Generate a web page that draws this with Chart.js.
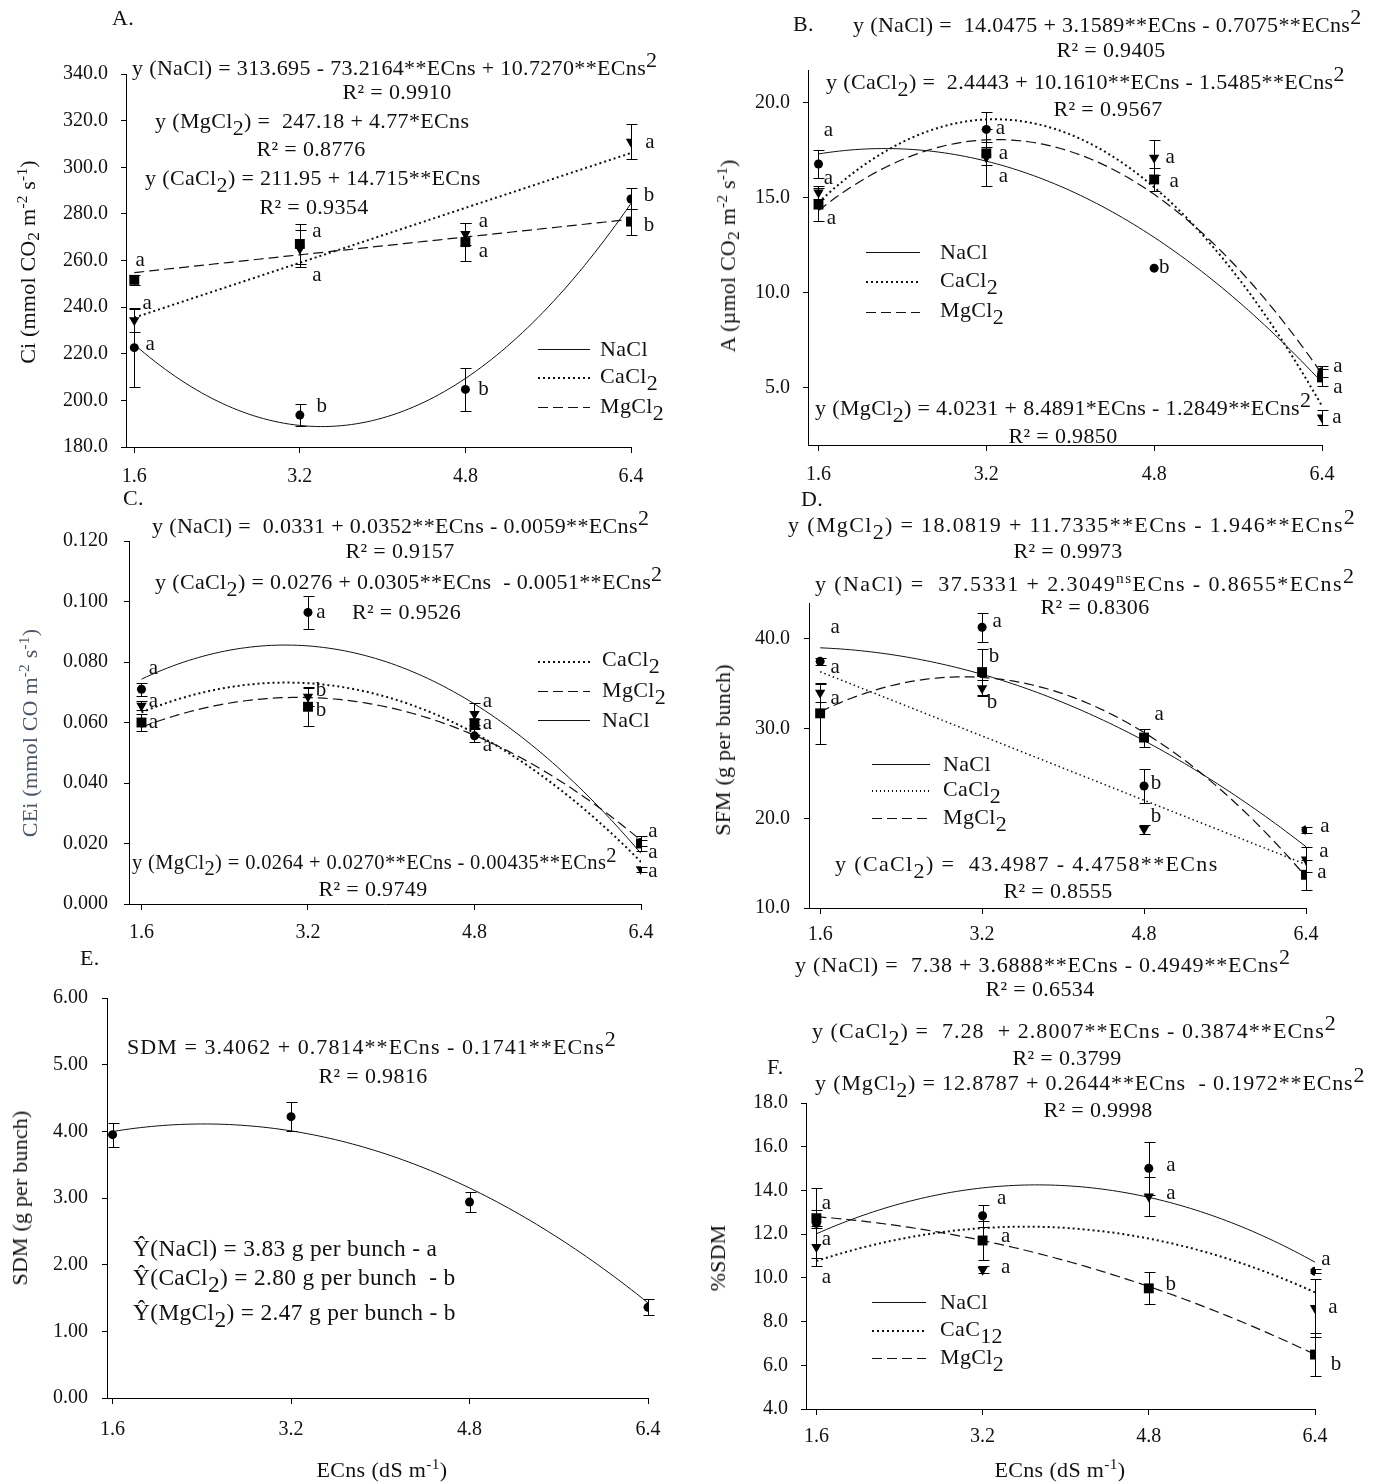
<!DOCTYPE html>
<html>
<head>
<meta charset="utf-8">
<script src="https://cdn.jsdelivr.net/npm/chart.js@4"></script>
<style>
body{margin:0;background:#fff;}
#page{position:relative;width:1381px;height:1484px;overflow:hidden;font-family:"Liberation Serif","Times New Roman",serif;color:#111;}
#page canvas{position:absolute;left:0;top:0;}
.t{position:absolute;font-size:22px;line-height:1;white-space:pre;letter-spacing:0.35px;}
.t sub{font-size:1em;vertical-align:-0.3em;line-height:0;}
.t sup{font-size:1em;vertical-align:0.35em;line-height:0;}
.t sup.s{font-size:0.7em;vertical-align:0.5em;}
.ttl{letter-spacing:0.2px;}
.ttl sup{font-size:0.7em;vertical-align:0.55em;}
.ttl sub{font-size:0.8em;vertical-align:-0.25em;}
.leg{position:absolute;}
</style>
</head>
<body>
<div id="page"></div>
<script>
const xVals = [1.6, 3.2, 4.8, 6.4];

// A. Ci (mmol CO2 m-2 s-1)
const ciTicks = [180, 200, 220, 240, 260, 280, 300, 320, 340];
const ciNaCl = [222.6, 193.7, 204.7, 286.4];
const ciNaClSe = [17, 4.6, 9.3, 4.5];
const ciNaClLet = ['a', 'b', 'b', 'b'];
const ciCaCl2 = [234.4, 265.0, 271.4, 310.9];
const ciCaCl2Se = [5, 8, 4.7, 7.5];
const ciCaCl2Let = ['a', 'a', 'a', 'a'];
const ciMgCl2 = [251.7, 267.1, 267.9, 276.7];
const ciMgCl2Se = [2, 8.5, 8, 5.6];
const ciMgCl2Let = ['a', 'a', 'a', 'b'];
const ciFitNaCl = [313.695, -73.2164, 10.7270];
const ciFitCaCl2 = [211.95, 14.715, 0];
const ciFitMgCl2 = [247.18, 4.77, 0];

// B. A (umol CO2 m-2 s-1)
const aTicks = [5, 10, 15, 20];
const aNaCl = [16.76, 18.58, 11.29, 5.85];
const aNaClSe = [0.73, 0.9, 0, 0.3];
const aNaClLet = ['a', 'a', 'b', 'a'];
const aCaCl2 = [15.26, 17.1, 17.09, 3.44];
const aCaCl2Se = [0.35, 1.5, 0.93, 0.4];
const aCaCl2Let = ['a', 'a', 'a', 'a'];
const aMgCl2 = [14.63, 17.32, 15.95, 5.55];
const aMgCl2Se = [0.86, 0.6, 0.6, 0.45];
const aMgCl2Let = ['a', 'a', 'a', 'a'];
const aFitNaCl = [14.0475, 3.1589, -0.7075];
const aFitCaCl2 = [2.4443, 10.1610, -1.5485];
const aFitMgCl2 = [4.0231, 8.4891, -1.2849];

// C. CEi
const ceTicks = [0, 0.02, 0.04, 0.06, 0.08, 0.10, 0.12];
const ceNaCl = [0.0710, 0.0964, 0.0556, 0.0203];
const ceNaClSe = [0.0022, 0.0055, 0.0022, 0.0010];
const ceNaClLet = ['a', 'a', 'a', 'a'];
const ceCaCl2 = [0.0655, 0.0685, 0.0628, 0.0115];
const ceCaCl2Se = [0.0015, 0.003, 0.0036, 0.0008];
const ceCaCl2Let = ['a', 'b', 'a', 'a'];
const ceMgCl2 = [0.0600, 0.0652, 0.0598, 0.0200];
const ceMgCl2Se = [0.0028, 0.0065, 0.0015, 0.0025];
const ceMgCl2Let = ['a', 'b', 'a', 'a'];
const ceFitNaCl = [0.0331, 0.0352, -0.0059];
const ceFitCaCl2 = [0.0276, 0.0305, -0.0051];
const ceFitMgCl2 = [0.0264, 0.0270, -0.00435];

// D. SFM (g per bunch)
const sfmTicks = [10, 20, 30, 40];
const sfmNaCl = [37.5, 41.3, 23.6, 18.7];
const sfmNaClSe = [0.4, 1.6, 1.9, 0.3];
const sfmNaClLet = ['a', 'a', 'b', 'a'];
const sfmCaCl2 = [34.0, 34.5, 18.8, 15.4];
const sfmCaCl2Se = [1.0, 0.9, 0.5, 1.4];
const sfmCaCl2Let = ['a', 'b', 'b', 'a'];
const sfmMgCl2 = [31.7, 36.3, 29.0, 13.7];
const sfmMgCl2Se = [3.4, 2.6, 1.0, 1.65];
const sfmMgCl2Let = ['a', 'b', 'a', 'a'];
const sfmFitNaCl = [37.5331, 2.3049, -0.8655];
const sfmFitCaCl2 = [43.4987, -4.4758, 0];
const sfmFitMgCl2 = [18.0819, 11.7335, -1.946];

// E. SDM (g per bunch), one series; curve as drawn in the figure
const sdmTicks = [0, 1, 2, 3, 4, 5, 6];
const sdmMean = [3.95, 4.22, 2.94, 1.36];
const sdmSe = [0.18, 0.22, 0.15, 0.12];
const sdmFit = [3.12, 0.819, -0.1693];

// F. %SDM
const pTicks = [4, 6, 8, 10, 12, 14, 16, 18];
const pNaCl = [12.5, 12.84, 15.01, 10.3];
const pNaClSe = [1.6, 0.5, 1.22, 0.1];
const pNaClLet = ['a', 'a', 'a', 'a'];
const pCaCl2 = [11.41, 10.37, 13.72, 8.62];
const pCaCl2Se = [0.89, 0.15, 0.88, 1.33];
const pCaCl2Let = ['a', 'a', 'a', 'a'];
const pMgCl2 = [12.73, 11.71, 9.52, 6.49];
const pMgCl2Se = [0.38, 0.88, 0.73, 1.0];
const pMgCl2Let = ['a', 'a', 'b', 'b'];
const pFitNaCl = [7.38, 3.6888, -0.4949];
const pFitCaCl2 = [7.28, 2.8007, -0.3874];
const pFitMgCl2 = [12.8787, 0.2644, -0.1972];

const W = 1381, H = 1484, YW = 100, XH = 50;
const page = document.getElementById('page');
const FONT = '"Liberation Serif", "Times New Roman", serif';

const salt = {
  NaCl:  {pointStyle: 'circle', pointRadius: 4.5, rotation: 0, dash: [], lw: 1},
  CaCl2: {pointStyle: 'triangle', pointRadius: 6, rotation: 180, dash: [2, 3], lw: 2},
  MgCl2: {pointStyle: 'rect', pointRadius: 7, rotation: 0, dash: [10, 5], lw: 1.2}
};

function curve(c){
  const pts = [];
  for (let i = 0; i <= 96; i++) {
    const x = 1.6 + i * 0.05;
    pts.push({x: x, y: c[0] + c[1] * x + c[2] * x * x});
  }
  return pts;
}

const marks = {
  id: 'marks',
  beforeDatasetsDraw(chart){
    const {ctx, scales: {x, y}} = chart;
    ctx.save();
    ctx.strokeStyle = '#000';
    ctx.lineWidth = 1;
    chart.data.datasets.forEach(d => {
      if (!d.se) return;
      d.data.forEach((p, i) => {
        const e = d.se[i];
        if (!e) return;
        const px = Math.round(x.getPixelForValue(p.x)) + 0.5;
        const y1 = Math.round(y.getPixelForValue(p.y + e)) + 0.5;
        const y2 = Math.round(y.getPixelForValue(p.y - e)) + 0.5;
        ctx.beginPath();
        ctx.moveTo(px, y1); ctx.lineTo(px, y2);
        ctx.moveTo(px - 5, y1); ctx.lineTo(px + 6, y1);
        ctx.moveTo(px - 5, y2); ctx.lineTo(px + 6, y2);
        ctx.stroke();
      });
    });
    ctx.restore();
  },
  afterDatasetsDraw(chart){
    const {ctx, scales: {x, y}} = chart;
    ctx.save();
    ctx.fillStyle = '#111';
    ctx.font = '21px ' + FONT;
    ctx.textAlign = 'center';
    ctx.textBaseline = 'middle';
    chart.data.datasets.forEach(d => {
      if (!d.letters) return;
      d.data.forEach((p, i) => {
        const o = d.offs[i];
        ctx.fillText(d.letters[i], x.getPixelForValue(p.x) + o[0], y.getPixelForValue(p.y) + o[1]);
      });
    });
    ctx.restore();
  }
};

function panel(cfg){
  const cv = document.createElement('canvas');
  cv.width = W; cv.height = H;
  page.appendChild(cv);
  const datasets = [];
  cfg.series.forEach(s => {
    const st = salt[s.salt];
    datasets.push({
      data: xVals.map((x, i) => ({x: x, y: s.vals[i]})),
      showLine: false,
      pointStyle: st.pointStyle, pointRadius: st.pointRadius, rotation: st.rotation,
      backgroundColor: '#000', borderColor: '#000', borderWidth: 0,
      se: s.se, letters: s.letters, offs: s.offs
    });
  });
  cfg.series.forEach(s => {
    const st = salt[s.salt];
    datasets.push({
      data: curve(s.fit), showLine: true, pointRadius: 0, tension: 0,
      borderColor: '#111', borderWidth: s.lw || st.lw, borderDash: s.dash || st.dash
    });
  });
  const b = cfg.box;
  new Chart(cv, {
    type: 'scatter',
    data: {datasets: datasets},
    options: {
      responsive: false, animation: false, events: [],
      layout: {padding: {left: b.l - YW, top: b.t, right: W - b.r, bottom: H - b.b - XH}},
      plugins: {legend: {display: false}, tooltip: {enabled: false}},
      scales: {
        x: {
          type: 'linear', min: cfg.xmin, max: 6.4,
          afterBuildTicks: s => { s.ticks = xVals.map(v => ({value: v})); },
          afterFit: s => { s.height = XH; },
          grid: {drawOnChartArea: false, color: '#000', tickLength: 6},
          border: {color: '#000', width: 1},
          ticks: {autoSkip: false, maxRotation: 0, padding: cfg.xpad, color: '#111',
                  font: {family: FONT, size: 20}, callback: v => v.toFixed(1)}
        },
        y: {
          type: 'linear', min: cfg.ymin, max: cfg.ymax,
          afterBuildTicks: s => { s.ticks = cfg.yticks.map(v => ({value: v})); },
          afterFit: s => { s.width = YW; },
          grid: {drawOnChartArea: false, color: '#000', tickLength: 5},
          border: {color: '#000', width: 1},
          ticks: {autoSkip: false, padding: cfg.ypad, color: '#111',
                  font: {family: FONT, size: 20}, callback: v => v.toFixed(cfg.dec)}
        }
      }
    },
    plugins: [marks]
  });
}

panel({
  box: {l: 126, t: 74, r: 631, b: 447}, xmin: 1.52, ymin: 180, ymax: 340, yticks: ciTicks, dec: 1, xpad: 12, ypad: 13,
  series: [
    {salt: 'NaCl', vals: ciNaCl, se: ciNaClSe, letters: ciNaClLet, fit: ciFitNaCl,
     offs: [[16, -3], [22, -9], [18, 0], [18, -3]]},
    {salt: 'CaCl2', vals: ciCaCl2, se: ciCaCl2Se, letters: ciCaCl2Let, fit: ciFitCaCl2,
     offs: [[13, -17], [17, 27], [18, -12], [19, 1]]},
    {salt: 'MgCl2', vals: ciMgCl2, se: ciMgCl2Se, letters: ciMgCl2Let, fit: ciFitMgCl2,
     offs: [[6, -19], [17, -12], [18, 9], [18, 4]]}
  ]
});

panel({
  box: {l: 808, t: 70, r: 1322, b: 445}, xmin: 1.5, ymin: 2, ymax: 21.7, yticks: aTicks, dec: 1, xpad: 12, ypad: 13,
  series: [
    {salt: 'NaCl', vals: aNaCl, se: aNaClSe, letters: aNaClLet, fit: aFitNaCl,
     offs: [[10, -34], [14, -1], [10, -1], [16, -5]]},
    {salt: 'CaCl2', vals: aCaCl2, se: aCaCl2Se, letters: aCaCl2Let, fit: aFitCaCl2,
     offs: [[10, -14], [17, 19], [16, 0], [15, 0]]},
    {salt: 'MgCl2', vals: aMgCl2, se: aMgCl2Se, letters: aMgCl2Let, fit: aFitMgCl2,
     offs: [[13, 14], [17, 0], [20, 2], [16, 10]]}
  ]
});

panel({
  box: {l: 129, t: 541, r: 641, b: 904}, xmin: 1.48, ymin: 0, ymax: 0.12, yticks: ceTicks, dec: 3, xpad: 11, ypad: 16,
  series: [
    {salt: 'NaCl', vals: ceNaCl, se: ceNaClSe, letters: ceNaClLet, fit: ceFitNaCl,
     offs: [[12, -21], [13, 0], [13, 10], [12, -11]]},
    {salt: 'CaCl2', vals: ceCaCl2, se: ceCaCl2Se, letters: ceCaCl2Let, fit: ceFitCaCl2,
     offs: [[12, -4], [13, -6], [13, -13], [12, 2]]},
    {salt: 'MgCl2', vals: ceMgCl2, se: ceMgCl2Se, letters: ceMgCl2Let, fit: ceFitMgCl2,
     offs: [[12, 0], [13, 4], [13, 0], [12, 9]]}
  ]
});

panel({
  box: {l: 809, t: 603, r: 1306, b: 908}, xmin: 1.49, ymin: 10, ymax: 44, yticks: sfmTicks, dec: 1, xpad: 9, ypad: 14,
  series: [
    {salt: 'NaCl', vals: sfmNaCl, se: sfmNaClSe, letters: sfmNaClLet, fit: sfmFitNaCl,
     offs: [[15, -34], [15, -6], [12, -3], [19, -3]]},
    {salt: 'CaCl2', vals: sfmCaCl2, se: sfmCaCl2Se, letters: sfmCaCl2Let, fit: sfmFitCaCl2, lw: 1.5, dash: [1.5, 3],
     offs: [[15, -25], [10, 14], [12, -13], [18, -8]]},
    {salt: 'MgCl2', vals: sfmMgCl2, se: sfmMgCl2Se, letters: sfmMgCl2Let, fit: sfmFitMgCl2,
     offs: [[15, -15], [12, -16], [15, -23], [16, -2]]}
  ]
});

panel({
  box: {l: 107, t: 998, r: 648, b: 1398}, xmin: 1.55, ymin: 0, ymax: 6, yticks: sdmTicks, dec: 2, xpad: 14, ypad: 14,
  series: [
    {salt: 'NaCl', vals: sdmMean, se: sdmSe, fit: sdmFit}
  ]
});

panel({
  box: {l: 806, t: 1103, r: 1315, b: 1409}, xmin: 1.5, ymin: 4, ymax: 18, yticks: pTicks, dec: 1, xpad: 10, ypad: 13,
  series: [
    {salt: 'NaCl', vals: pNaCl, se: pNaClSe, letters: pNaClLet, fit: pFitNaCl,
     offs: [[10, -20], [19, -17], [22, -3], [11, -12]]},
    {salt: 'CaCl2', vals: pCaCl2, se: pCaCl2Se, letters: pCaCl2Let, fit: pFitCaCl2,
     offs: [[10, 30], [23, -2], [22, -3], [18, -1]]},
    {salt: 'MgCl2', vals: pMgCl2, se: pMgCl2Se, letters: pMgCl2Let, fit: pFitMgCl2,
     offs: [[10, 21], [23, -4], [22, -4], [21, 10]]}
  ]
});

// text overlays: [html, x, centre y, align, font size, letter spacing]
const texts = [
  ['A.', 112, 18, 'l'],
  ['y (NaCl) = 313.695 - 73.2164**ECns + 10.7270**ECns<sup>2</sup>', 132, 68, 'l'],
  ['R² = 0.9910', 397, 92, 'c'],
  ['y (MgCl<sub>2</sub>) =  247.18 + 4.77*ECns', 155, 121, 'l'],
  ['R² = 0.8776', 311, 149, 'c'],
  ['y (CaCl<sub>2</sub>) = 211.95 + 14.715**ECns', 145, 178, 'l'],
  ['R² = 0.9354', 314, 207, 'c'],
  ['NaCl', 600, 349, 'l'], ['CaCl<sub>2</sub>', 600, 376, 'l'], ['MgCl<sub>2</sub>', 600, 406, 'l'],

  ['B.', 793, 24, 'l'],
  ['y (NaCl) =  14.0475 + 3.1589**ECns - 0.7075**ECns<sup>2</sup>', 853, 25, 'l'],
  ['R² = 0.9405', 1111, 50, 'c'],
  ['y (CaCl<sub>2</sub>) =  2.4443 + 10.1610**ECns - 1.5485**ECns<sup>2</sup>', 826, 82, 'l'],
  ['R² = 0.9567', 1108, 109, 'c'],
  ['y (MgCl<sub>2</sub>) = 4.0231 + 8.4891*ECns - 1.2849**ECns<sup>2</sup>', 815, 408, 'l'],
  ['R² = 0.9850', 1063, 436, 'c'],
  ['NaCl', 940, 252, 'l'], ['CaCl<sub>2</sub>', 940, 280, 'l'], ['MgCl<sub>2</sub>', 940, 310, 'l'],

  ['C.', 123, 498, 'l'],
  ['y (NaCl) =  0.0331 + 0.0352**ECns - 0.0059**ECns<sup>2</sup>', 152, 526, 'l'],
  ['R² = 0.9157', 400, 551, 'c'],
  ['y (CaCl<sub>2</sub>) = 0.0276 + 0.0305**ECns  - 0.0051**ECns<sup>2</sup>', 155, 582, 'l'],
  ['R² = 0.9526', 352, 612, 'l'],
  ['y (MgCl<sub>2</sub>) = 0.0264 + 0.0270**ECns - 0.00435**ECns<sup>2</sup>', 132, 862, 'l', 20.5],
  ['R² = 0.9749', 373, 889, 'c'],
  ['CaCl<sub>2</sub>', 602, 659, 'l'], ['MgCl<sub>2</sub>', 602, 690, 'l'], ['NaCl', 602, 720, 'l'],

  ['D.', 801, 499, 'l'],
  ['y (MgCl<sub>2</sub>) = 18.0819 + 11.7335**ECns - 1.946**ECns<sup>2</sup>', 788, 525, 'l', 22, 1.35],
  ['R² = 0.9973', 1068, 551, 'c'],
  ['y (NaCl) =  37.5331 + 2.3049<sup class="s">ns</sup>ECns - 0.8655*ECns<sup>2</sup>', 815, 584, 'l', 22, 1.4],
  ['R² = 0.8306', 1095, 607, 'c'],
  ['y (CaCl<sub>2</sub>) =  43.4987 - 4.4758**ECns', 835, 864, 'l', 22, 1.35],
  ['R² = 0.8555', 1058, 891, 'c'],
  ['NaCl', 943, 764, 'l'], ['CaCl<sub>2</sub>', 943, 789, 'l'], ['MgCl<sub>2</sub>', 943, 817, 'l'],

  ['E.', 80, 958, 'l'],
  ['SDM = 3.4062 + 0.7814**ECns - 0.1741**ECns<sup>2</sup>', 127, 1047, 'l', 22, 1.05],
  ['R² = 0.9816', 373, 1076, 'c'],
  ['Ŷ(NaCl) = 3.83 g per bunch - a', 133, 1249, 'l', 23.4],
  ['Ŷ(CaCl<sub>2</sub>) = 2.80 g per bunch  - b', 133, 1278, 'l', 23.4],
  ['Ŷ(MgCl<sub>2</sub>) = 2.47 g per bunch - b', 133, 1313, 'l', 23.4],

  ['y (NaCl) =  7.38 + 3.6888**ECns - 0.4949**ECns<sup>2</sup>', 795, 965, 'l', 22, 0.8],
  ['R² = 0.6534', 1040, 989, 'c'],
  ['y (CaCl<sub>2</sub>) =  7.28  + 2.8007**ECns - 0.3874**ECns<sup>2</sup>', 812, 1031, 'l', 22, 1.05],
  ['R² = 0.3799', 1067, 1058, 'c'],
  ['F.', 767, 1067, 'l'],
  ['y (MgCl<sub>2</sub>) = 12.8787 + 0.2644**ECns  - 0.1972**ECns<sup>2</sup>', 815, 1083, 'l', 22, 0.85],
  ['R² = 0.9998', 1098, 1110, 'c'],
  ['NaCl', 940, 1302, 'l'], ['CaC<sub>12</sub>', 940, 1329, 'l'], ['MgCl<sub>2</sub>', 940, 1357, 'l'],

  ['ECns (dS m<sup class="s">-1</sup>)', 382, 1470, 'c'],
  ['ECns (dS m<sup class="s">-1</sup>)', 1060, 1470, 'c']
];

// rotated axis titles: [html, centre x, centre y, colour]
const yTitles = [
  ['Ci (mmol CO<sub>2</sub> m<sup>-2</sup> s<sup>-1</sup>)', 28, 262, '#111'],
  ['A (µmol CO<sub>2</sub> m<sup>-2</sup> s<sup>-1</sup>)', 728, 256, '#111'],
  ['CEi (mmol CO m<sup>-2</sup> s<sup>-1</sup>)', 30, 733, '#4b5666'],
  ['SFM (g per bunch)', 723, 750, '#111'],
  ['SDM (g per bunch)', 20, 1198, '#111'],
  ['%SDM', 718, 1258, '#111']
];

// legend line samples: [x1, x2, y, style]
const legLines = [
  [538, 590, 349, 'solid'], [538, 590, 377, 'dotted'], [538, 590, 407, 'dashed'],
  [866, 920, 252, 'solid'], [866, 920, 281, 'dotted'], [866, 920, 312, 'dashed'],
  [538, 590, 661, 'dotted'], [538, 590, 691, 'dashed'], [538, 590, 720, 'solid'],
  [872, 930, 764, 'solid'], [872, 930, 790, 'fine'], [872, 930, 818, 'dashed'],
  [872, 926, 1302, 'solid'], [872, 926, 1330, 'dotted'], [872, 926, 1358, 'dashed']
];
const legFill = {
  solid: ['1px', '#111'],
  dotted: ['2px', 'repeating-linear-gradient(to right,#111 0 2px,transparent 2px 5px)'],
  fine: ['1.5px', 'repeating-linear-gradient(to right,#111 0 1.5px,transparent 1.5px 4px)'],
  dashed: ['1px', 'repeating-linear-gradient(to right,#111 0 10px,transparent 10px 15px)']
};

texts.forEach(([h, x, cy, al, fs, ls]) => {
  const size = fs || 22;
  const d = document.createElement('div');
  d.className = 't';
  d.innerHTML = h;
  d.style.fontSize = size + 'px';
  if (ls) d.style.letterSpacing = ls + 'px';
  d.style.left = x + 'px';
  d.style.top = (cy - size / 2) + 'px';
  if (al === 'c') d.style.transform = 'translateX(-50%)';
  page.appendChild(d);
});

yTitles.forEach(([h, x, y, col]) => {
  const d = document.createElement('div');
  d.className = 't ttl';
  d.innerHTML = h;
  d.style.left = x + 'px';
  d.style.top = y + 'px';
  d.style.color = col;
  d.style.fontSize = '22px';
  d.style.transform = 'translate(-50%,-50%) rotate(-90deg)';
  page.appendChild(d);
});

legLines.forEach(([x1, x2, y, st]) => {
  const d = document.createElement('div');
  d.className = 'leg';
  d.style.left = x1 + 'px';
  d.style.width = (x2 - x1) + 'px';
  d.style.top = y + 'px';
  d.style.height = legFill[st][0];
  d.style.background = legFill[st][1];
  page.appendChild(d);
});
</script>
</body>
</html>
